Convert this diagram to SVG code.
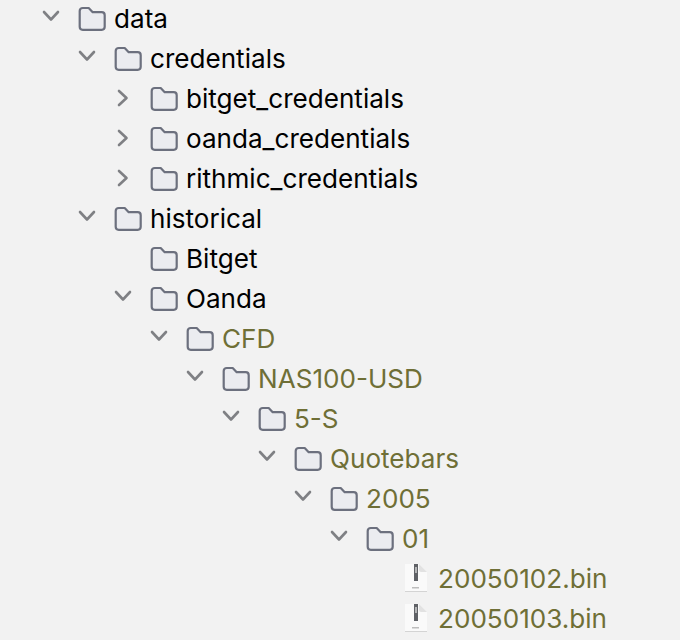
<svg xmlns="http://www.w3.org/2000/svg" width="680" height="640" viewBox="0 0 680 640">
<style>
text{font-family:Inter,"Liberation Sans",sans-serif;font-size:26.1px;fill:#000}
.o{fill:#6f6f36}
.f{fill:#ebecf0;stroke:#6c707e;stroke-width:2.2;stroke-linejoin:round}
.c{fill:none;stroke:#7f8084;stroke-width:2.6;stroke-linecap:round;stroke-linejoin:round}
</style>
<defs>
<path id="fold" class="f" d="M1.200 4.500a3 3 0 0 1 3-3h6l4 4.200h9a3 3 0 0 1 3 3v11.600a3 3 0 0 1-3 3H4.200a3 3 0 0 1-3-3z"/>
<path id="down" class="c" d="M-7 -4L0 3.500L7 -4"/>
<path id="right" class="c" d="M-3.500 -7L4 0L-3.500 7"/>
<g id="bin">
<path d="M0 1H14L22 9V28H0z" fill="#d4d4d4"/>
<path d="M0 0H14L22 8V27H0z" fill="#fafafa"/>
<path d="M14 0L22 8H16a2 2 0 0 1-2-2z" fill="#e2e2e2"/>
<rect x="9" y="0" width="4" height="17" fill="#5f6166"/>
<rect x="10.200" y="3" width="1.600" height="6" fill="#c9c9c9"/>
<rect x="7" y="23" width="7" height="1.500" fill="#bdbdbd"/>
</g>
</defs>
<rect width="680" height="640" fill="#f2f2f2"/>
<g id="connectors">
<use href="#down" x="51" y="16"/>
<use href="#down" x="87" y="56"/>
<use href="#right" x="122.500" y="98"/>
<use href="#right" x="122.500" y="138"/>
<use href="#right" x="122.500" y="178"/>
<use href="#down" x="87" y="216"/>
<use href="#down" x="123" y="296"/>
<use href="#down" x="159" y="336"/>
<use href="#down" x="195" y="376"/>
<use href="#down" x="231" y="416"/>
<use href="#down" x="267" y="456"/>
<use href="#down" x="303" y="496"/>
<use href="#down" x="339" y="536"/>
</g>
<g id="n-data"><use href="#fold" x="78.500" y="6.500"/><text x="114" y="28">data</text></g>
<g id="n-credentials"><use href="#fold" x="114.500" y="46.500"/><text x="150" y="68">credentials</text></g>
<g id="n-bitget-cred"><use href="#fold" x="150.500" y="86.500"/><text x="186" y="108">bitget_credentials</text></g>
<g id="n-oanda-cred"><use href="#fold" x="150.500" y="126.500"/><text x="186" y="148">oanda_credentials</text></g>
<g id="n-rithmic-cred"><use href="#fold" x="150.500" y="166.500"/><text x="186" y="188">rithmic_credentials</text></g>
<g id="n-historical"><use href="#fold" x="114.500" y="206.500"/><text x="150" y="228">historical</text></g>
<g id="n-bitget"><use href="#fold" x="150.500" y="246.500"/><text x="186" y="268">Bitget</text></g>
<g id="n-oanda"><use href="#fold" x="150.500" y="286.500"/><text x="186" y="308">Oanda</text></g>
<g id="n-cfd"><use href="#fold" x="186.500" y="326.500"/><text class="o" x="222" y="348">CFD</text></g>
<g id="n-nas"><use href="#fold" x="222.500" y="366.500"/><text class="o" x="258" y="388">NAS100-USD</text></g>
<g id="n-5s"><use href="#fold" x="258.500" y="406.500"/><text class="o" x="294" y="428">5-S</text></g>
<g id="n-quotebars"><use href="#fold" x="294.500" y="446.500"/><text class="o" x="330" y="468">Quotebars</text></g>
<g id="n-2005"><use href="#fold" x="330.500" y="486.500"/><text class="o" x="366" y="508">2005</text></g>
<g id="n-01"><use href="#fold" x="366.500" y="526.500"/><text class="o" x="402" y="548">01</text></g>
<g id="n-file1"><use href="#bin" x="405" y="564"/><text class="o" x="438" y="588">20050102.bin</text></g>
<g id="n-file2"><use href="#bin" x="405" y="604"/><text class="o" x="438" y="628">20050103.bin</text></g>
</svg>
